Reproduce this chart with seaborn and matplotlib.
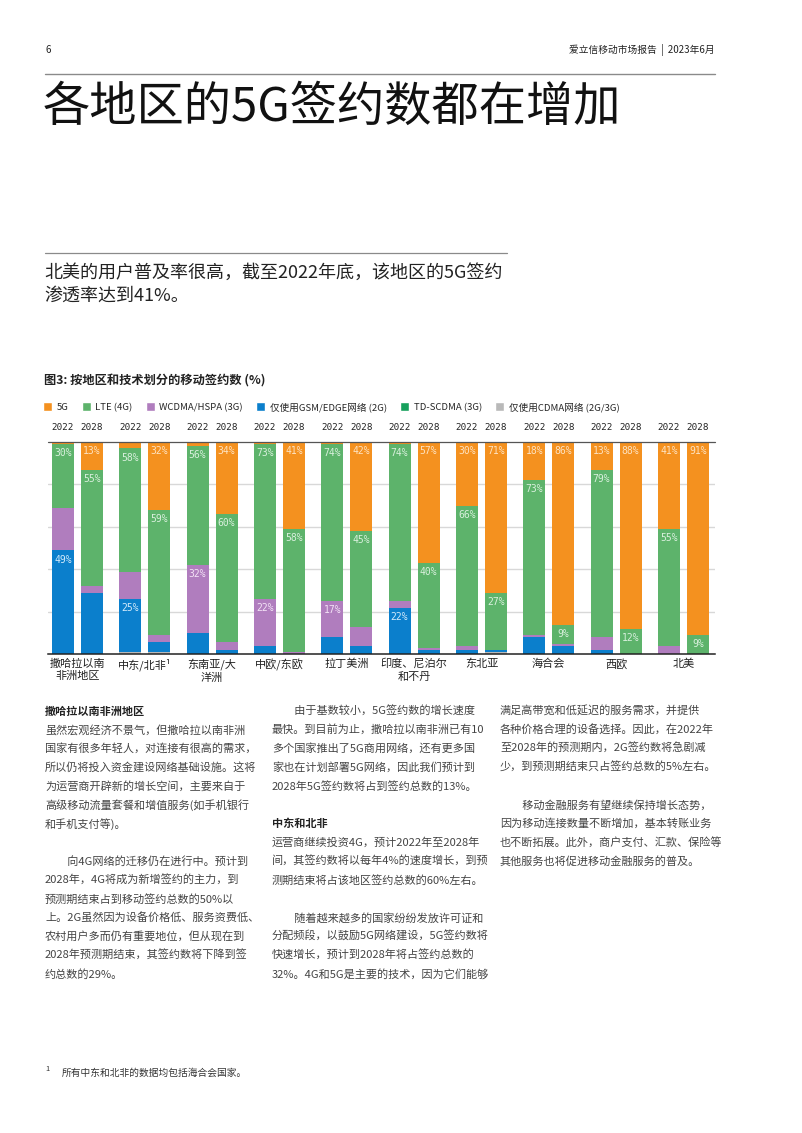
import matplotlib
matplotlib.use('Agg')
import matplotlib.pyplot as plt
from matplotlib.lines import Line2D
from matplotlib.patches import Patch
import seaborn as sns
import pandas as pd

# ---- data (percent of subscriptions) ----
regions = ['撒哈拉以南\n非洲地区', '中东/北非¹', '东南亚/大\n洋洲', '中欧/东欧', '拉丁美洲',
           '印度、尼泊尔\n和不丹', '东北亚', '海合会', '西欧', '北美']
years = ['2022', '2028']

g5_2022 = [1, 3, 2, 1, 1, 1, 30, 18, 13, 41]
lte_2022 = [30, 58, 56, 73, 74, 74, 66, 73, 79, 55]
wcdma_2022 = [20, 13, 32, 22, 17, 3, 2, 1, 6, 4]
gsm_2022 = [49, 25, 10, 4, 8, 22, 2, 8, 2, 0]
td_2022 = [0, 0, 0, 0, 0, 0, 0, 0, 0, 0]
cdma_2022 = [0, 1, 0, 0, 0, 0, 0, 0, 0, 0]

g5_2028 = [13, 32, 34, 41, 42, 57, 71, 86, 88, 91]
lte_2028 = [55, 59, 60, 58, 45, 40, 27, 9, 12, 9]
wcdma_2028 = [3, 3, 4, 1, 9, 1, 0, 1, 0, 0]
gsm_2028 = [29, 5, 2, 0, 4, 2, 1, 4, 0, 0]
td_2028 = [0, 0, 0, 0, 0, 0, 0, 0, 0, 0]
cdma_2028 = [0, 1, 0, 0, 0, 0, 1, 0, 0, 0]

# which segments carry a value label
labels_2022 = [('LTE', 'GSM'), ('LTE', 'GSM'), ('LTE', 'WCDMA'), ('LTE', 'WCDMA'), ('LTE', 'WCDMA'),
               ('LTE', 'GSM'), ('5G', 'LTE'), ('5G', 'LTE'), ('5G', 'LTE'), ('5G', 'LTE')]
labels_2028 = [('5G', 'LTE')] * 10

legend_names = ['5G', 'LTE (4G)', 'WCDMA/HSPA (3G)', '仅使用GSM/EDGE网络 (2G)',
                'TD-SCDMA (3G)', '仅使用CDMA网络 (2G/3G)']
colors = {'5G': '#F4911F', 'LTE': '#5DB36B', 'WCDMA': '#B07DBE', 'GSM': '#0B7FCC',
          'TD': '#16A05C', 'CDMA': '#B9B9B9'}
tints = {'5G': '#FDE3C3', 'LTE': '#D9F0DD', 'WCDMA': '#F3E2F6', 'GSM': '#D2EAFB'}

stack_order = ['CDMA', 'TD', 'GSM', 'WCDMA', 'LTE', '5G']   # bottom -> top
values = {'CDMA': cdma_2022 + cdma_2028, 'TD': td_2022 + td_2028, 'GSM': gsm_2022 + gsm_2028,
          'WCDMA': wcdma_2022 + wcdma_2028, 'LTE': lte_2022 + lte_2028, '5G': g5_2022 + g5_2028}

df = pd.DataFrame({'region': regions * 2, 'year': ['2022'] * 10 + ['2028'] * 10})
for k in stack_order:
    df[k] = values[k]
cum = df[stack_order].cumsum(axis=1)
for k in stack_order:
    df['cum_' + k] = cum[k]

# ---- figure ----
sns.set_style('white')
plt.rcParams['font.family'] = ['Noto Sans CJK SC', 'DejaVu Sans']

W, H = 802, 1133
fig = plt.figure(figsize=(W / 100, H / 100), dpi=100)


def fx(px):
    return px / W


def fy(py):
    return 1 - py / H


def hline(x0, x1, y, color, lw):
    fig.add_artist(Line2D([fx(x0), fx(x1)], [fy(y), fy(y)], color=color, lw=lw,
                          transform=fig.transFigure))


# page header
fig.text(fx(45), fy(50), '6', fontsize=7, color='#222', va='center')
fig.text(fx(715), fy(50), '爱立信移动市场报告  |  2023年6月', fontsize=7, color='#222',
         va='center', ha='right')
hline(45, 715, 74, '#8a8a8a', 1.0)
fig.text(fx(43), fy(108), '各地区的5G签约数都在增加', fontsize=34, color='#111', va='center')

hline(45, 507, 253, '#8a8a8a', 0.9)
fig.text(fx(44), fy(273), '北美的用户普及率很高，截至2022年底，该地区的5G签约', fontsize=13,
         color='#222', va='center')
fig.text(fx(44), fy(296), '渗透率达到41%。', fontsize=13, color='#222', va='center')

fig.text(fx(44), fy(381), '图3: 按地区和技术划分的移动签约数 (%)', fontsize=8.8,
         fontweight='bold', color='#222', va='center')

# ---- chart ----
ax = fig.add_axes([fx(48), fy(654.3), fx(715) - fx(48), (654.3 - 442) / H])
for y in [20, 40, 60, 80]:
    ax.axhline(y, color='#d8d8d8', lw=1, zorder=0.5)

for k in reversed(stack_order):
    sns.barplot(data=df, x='region', y='cum_' + k, hue='year', order=regions, hue_order=years,
                palette={'2022': colors[k], '2028': colors[k]}, width=0.862, gap=0.24,
                saturation=1, errorbar=None, legend=False, linewidth=0, ax=ax)

centers = sorted(p.get_x() + p.get_width() / 2 for p in ax.patches[:20])
ax.set_xlim(-0.438, 9.47)
ax.set_ylim(0, 100)
ax.set_xlabel('')
ax.set_ylabel('')
ax.set_yticks([])
for s in ['left', 'right', 'top']:
    ax.spines[s].set_visible(False)
ax.spines['bottom'].set_color('#222')
ax.spines['bottom'].set_linewidth(1.1)
ax.axhline(100, color='#555', lw=0.9, clip_on=False)
ax.tick_params(axis='x', length=0, pad=3, labelsize=8, labelcolor='#222')
for lbl in ax.get_xticklabels():
    lbl.set_linespacing(1.3)

for g in range(10):
    for j, (yr, labs) in enumerate(((0, labels_2022), (1, labels_2028))):
        cx = centers[2 * g + j]
        idx = g + 10 * yr
        ax.text(cx, 106.6, years[yr], ha='center', va='center', fontsize=6.7,
                family='DejaVu Sans Mono', color='#222', clip_on=False)
        for k in labs[g]:
            top = df.loc[idx, 'cum_' + k]
            ax.text(cx, top - 2.0, f"{df.loc[idx, k]}%", ha='center', va='top', fontsize=7,
                    family='DejaVu Sans Mono', color=tints[k])

handles = [Patch(facecolor=colors[k], label=n)
           for k, n in zip(['5G', 'LTE', 'WCDMA', 'GSM', 'TD', 'CDMA'], legend_names)]
fig.legend(handles=handles, loc='center left', bbox_to_anchor=(fx(43), fy(407)), ncol=6,
           frameon=False, fontsize=6.9, handlelength=0.95, handleheight=0.95,
           handletextpad=0.45, columnspacing=1.4, borderaxespad=0, borderpad=0)

# ---- body text ----
col1 = [('撒哈拉以南非洲地区', True),
        ('虽然宏观经济不景气，但撒哈拉以南非洲', False),
        ('国家有很多年轻人，对连接有很高的需求，', False),
        ('所以仍将投入资金建设网络基础设施。这将', False),
        ('为运营商开辟新的增长空间，主要来自于', False),
        ('高级移动流量套餐和增值服务(如手机银行', False),
        ('和手机支付等)。', False),
        ('', False),
        ('\u3000\u3000向4G网络的迁移仍在进行中。预计到', False),
        ('2028年，4G将成为新增签约的主力，到', False),
        ('预测期结束占到移动签约总数的50%以', False),
        ('上。2G虽然因为设备价格低、服务资费低、', False),
        ('农村用户多而仍有重要地位，但从现在到', False),
        ('2028年预测期结束，其签约数将下降到签', False),
        ('约总数的29%。', False)]
col2 = [('\u3000\u3000由于基数较小，5G签约数的增长速度', False),
        ('最快。到目前为止，撒哈拉以南非洲已有10', False),
        ('多个国家推出了5G商用网络，还有更多国', False),
        ('家也在计划部署5G网络，因此我们预计到', False),
        ('2028年5G签约数将占到签约总数的13%。', False),
        ('', False),
        ('中东和北非', True),
        ('运营商继续投资4G，预计2022年至2028年', False),
        ('间，其签约数将以每年4%的速度增长，到预', False),
        ('测期结束将占该地区签约总数的60%左右。', False),
        ('', False),
        ('\u3000\u3000随着越来越多的国家纷纷发放许可证和', False),
        ('分配频段，以鼓励5G网络建设，5G签约数将', False),
        ('快速增长，预计到2028年将占签约总数的', False),
        ('32%。4G和5G是主要的技术，因为它们能够', False)]
col3 = [('满足高带宽和低延迟的服务需求，并提供', False),
        ('各种价格合理的设备选择。因此，在2022年', False),
        ('至2028年的预测期内，2G签约数将急剧减', False),
        ('少，到预测期结束只占签约总数的5%左右。', False),
        ('', False),
        ('\u3000\u3000移动金融服务有望继续保持增长态势，', False),
        ('因为移动连接数量不断增加，基本转账业务', False),
        ('也不断拓展。此外，商户支付、汇款、保险等', False),
        ('其他服务也将促进移动金融服务的普及。', False)]

for x0, col in ((45, col1), (272, col2), (500, col3)):
    for i, (txt, bold) in enumerate(col):
        if not txt:
            continue
        fig.text(fx(x0), fy(711 + 18.8 * i), txt, fontsize=8.0, va='center',
                 color='#222' if bold else '#444', fontweight='bold' if bold else 'normal')

fig.text(fx(45), fy(1069), '1', fontsize=5.5, color='#333', va='center')
fig.text(fx(62), fy(1073), '所有中东和北非的数据均包括海合会国家。', fontsize=7, color='#333',
         va='center')

fig.savefig('out.png', dpi=100)
